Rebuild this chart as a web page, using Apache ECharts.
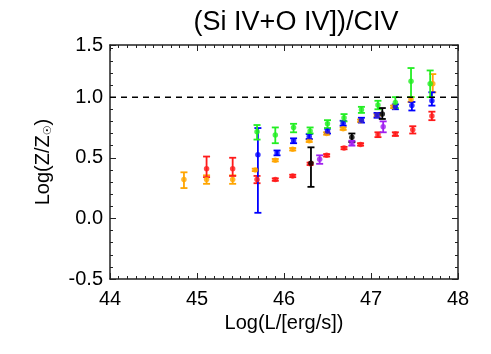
<!DOCTYPE html>
<html><head><meta charset="utf-8">
<script src="https://cdn.jsdelivr.net/npm/echarts@6/dist/echarts.min.js"></script>
<style>html,body{margin:0;padding:0;background:#fff}#c{width:491px;height:354px}</style>
</head><body><div id="c"></div>
<script>
// Each point: [logL, logZ, lower, upper]
const orangePts = [
  [44.85,0.32,0.25,0.38],[45.11,0.32,0.285,0.355],[45.41,0.32,0.285,0.355],
  [45.67,0.40,0.39,0.41],[45.90,0.48,0.47,0.49],[46.10,0.57,0.56,0.58],
  [46.29,0.64,0.63,0.65],[46.49,0.70,0.69,0.71],[46.68,0.74,0.73,0.75],
  [46.88,0.805,0.795,0.815],[47.07,0.85,0.84,0.86],[47.26,0.92,0.91,0.93],
  [47.46,0.98,0.96,1.00],[47.71,1.11,1.04,1.19]
];
const redPts = [
  [45.11,0.41,0.34,0.51],[45.41,0.41,0.35,0.50],[45.69,0.32,0.29,0.35],
  [45.90,0.32,0.31,0.33],[46.10,0.35,0.34,0.36],[46.30,0.45,0.44,0.46],
  [46.49,0.52,0.51,0.53],[46.69,0.58,0.57,0.59],[46.88,0.61,0.60,0.62],
  [47.08,0.69,0.67,0.71],[47.28,0.695,0.68,0.71],[47.48,0.73,0.70,0.76],
  [47.70,0.845,0.81,0.88]
];
const bluePts = [
  [45.70,0.525,0.046,0.745],[45.92,0.54,0.52,0.56],[46.11,0.64,0.62,0.66],
  [46.29,0.675,0.655,0.695],[46.50,0.72,0.70,0.74],[46.68,0.785,0.765,0.805],
  [46.89,0.81,0.79,0.83],[47.07,0.85,0.83,0.87],[47.28,0.92,0.90,0.94],
  [47.47,0.93,0.89,0.96],[47.70,0.97,0.93,1.04]
];
const greenPts = [
  [45.69,0.715,0.65,0.77],[45.90,0.687,0.62,0.75],[46.11,0.75,0.71,0.78],
  [46.30,0.72,0.70,0.75],[46.50,0.78,0.745,0.81],[46.69,0.83,0.80,0.86],
  [46.89,0.895,0.87,0.92],[47.08,0.935,0.90,0.97],[47.28,0.955,0.91,1.00],
  [47.46,1.13,1.00,1.24],[47.68,1.11,1.00,1.22]
];
const blackPts = [
  [46.31,0.454,0.26,0.586],[46.78,0.67,0.63,0.70],[47.13,0.86,0.82,0.91]
];
const purplePts = [
  [46.41,0.487,0.45,0.52],[46.78,0.62,0.60,0.64],[47.14,0.756,0.71,0.80]
];
const solarLine = [[44,1.0],[48,1.0]];
const xTicks = [44,45,46,47,48];
const titleText = '(Si IV+O IV])/CIV';

const groups = [
  {name:'orange', data:orangePts, color:'#FFA500'},
  {name:'red', data:redPts, color:'#FF1a1a'},
  {name:'blue', data:bluePts, color:'#0000FF'},
  {name:'green', data:greenPts, color:'#22EE22'},
  {name:'black', data:blackPts, color:'#000000'},
  {name:'purple', data:purplePts, color:'#A020F0'}
];

function errRender(color){
  return function(params, api){
    const x = api.value(0);
    const lo = api.coord([x, api.value(2)]);
    const hi = api.coord([x, api.value(3)]);
    const w = 3.5;
    const st = {stroke:color, lineWidth:1.8};
    return {type:'group', children:[
      {type:'line', shape:{x1:lo[0],y1:lo[1],x2:hi[0],y2:hi[1]}, style:st},
      {type:'line', shape:{x1:lo[0]-w,y1:lo[1],x2:lo[0]+w,y2:lo[1]}, style:st},
      {type:'line', shape:{x1:hi[0]-w,y1:hi[1],x2:hi[0]+w,y2:hi[1]}, style:st}
    ]};
  };
}

const series = [{
  type:'line', data:solarLine, symbol:'none', silent:true,
  lineStyle:{color:'#000', width:1.5, type:[6,5]}
}];
groups.forEach(g=>{
  series.push({type:'custom', renderItem:errRender(g.color), data:g.data,
    encode:{x:0,y:[1,2,3]}, silent:true});
  series.push({type:'scatter', data:g.data.map(d=>[d[0],d[1]]), symbol:'circle',
    symbolSize:5.5, itemStyle:{color:g.color}, silent:true});
});

const axisCol = '#222';
const FONT = 'Liberation Sans, Arial, sans-serif';
const tickCommon = {
  axisLine:{onZero:false, lineStyle:{color:axisCol, width:1.5}},
  axisTick:{inside:true, length:6, lineStyle:{color:axisCol}},
  splitLine:{show:false}
};
const chart = echarts.init(document.getElementById('c'), null, {renderer:'canvas'});
chart.setOption({
  animation:false,
  backgroundColor:'#fff',
  title:{text:titleText, left:291, top:4, textAlign:'center',
    textStyle:{fontFamily:FONT, fontSize:27, fontWeight:'normal', color:'#000'}},
  grid:{left:110, right:33, top:45, bottom:75},
  xAxis:[Object.assign({
    type:'value', min:xTicks[0], max:xTicks[xTicks.length-1], interval:1, position:'bottom',
    name:'Log(L/[erg/s])', nameLocation:'middle', nameGap:32,
    nameTextStyle:{fontFamily:FONT, fontSize:20, color:'#000'},
    minorTick:{show:true, splitNumber:10, length:3, lineStyle:{color:axisCol}},
    axisLabel:{fontFamily:FONT, fontSize:20, color:'#000', margin:10}
  }, tickCommon), Object.assign({
    type:'value', min:xTicks[0], max:xTicks[xTicks.length-1], interval:1, position:'top',
    minorTick:{show:true, splitNumber:10, length:3, lineStyle:{color:axisCol}},
    axisLabel:{show:false}
  }, tickCommon)],
  yAxis:[Object.assign({
    type:'value', min:-0.5, max:1.43, interval:0.5, position:'left',
    name:'{a|Log(Z/Z}{s|☉}{a|)}', nameLocation:'middle', nameGap:56,
    nameTextStyle:{rich:{
      a:{fontFamily:FONT, fontSize:20, color:'#000'},
      s:{fontFamily:'DejaVu Sans', fontSize:11, color:'#000', verticalAlign:'bottom', padding:[10,0,0,0]}
    }},
    minorTick:{show:true, splitNumber:5, length:3, lineStyle:{color:axisCol}},
    axisLabel:{fontFamily:FONT, fontSize:20, color:'#000', margin:7,
      formatter:v=> v>1.4 ? '1.5' : v.toFixed(1)}
  }, tickCommon), Object.assign({
    type:'value', min:-0.5, max:1.43, interval:0.5, position:'right',
    minorTick:{show:true, splitNumber:5, length:3, lineStyle:{color:axisCol}},
    axisLabel:{show:false}
  }, tickCommon)],
  series:series
});
</script></body></html>
